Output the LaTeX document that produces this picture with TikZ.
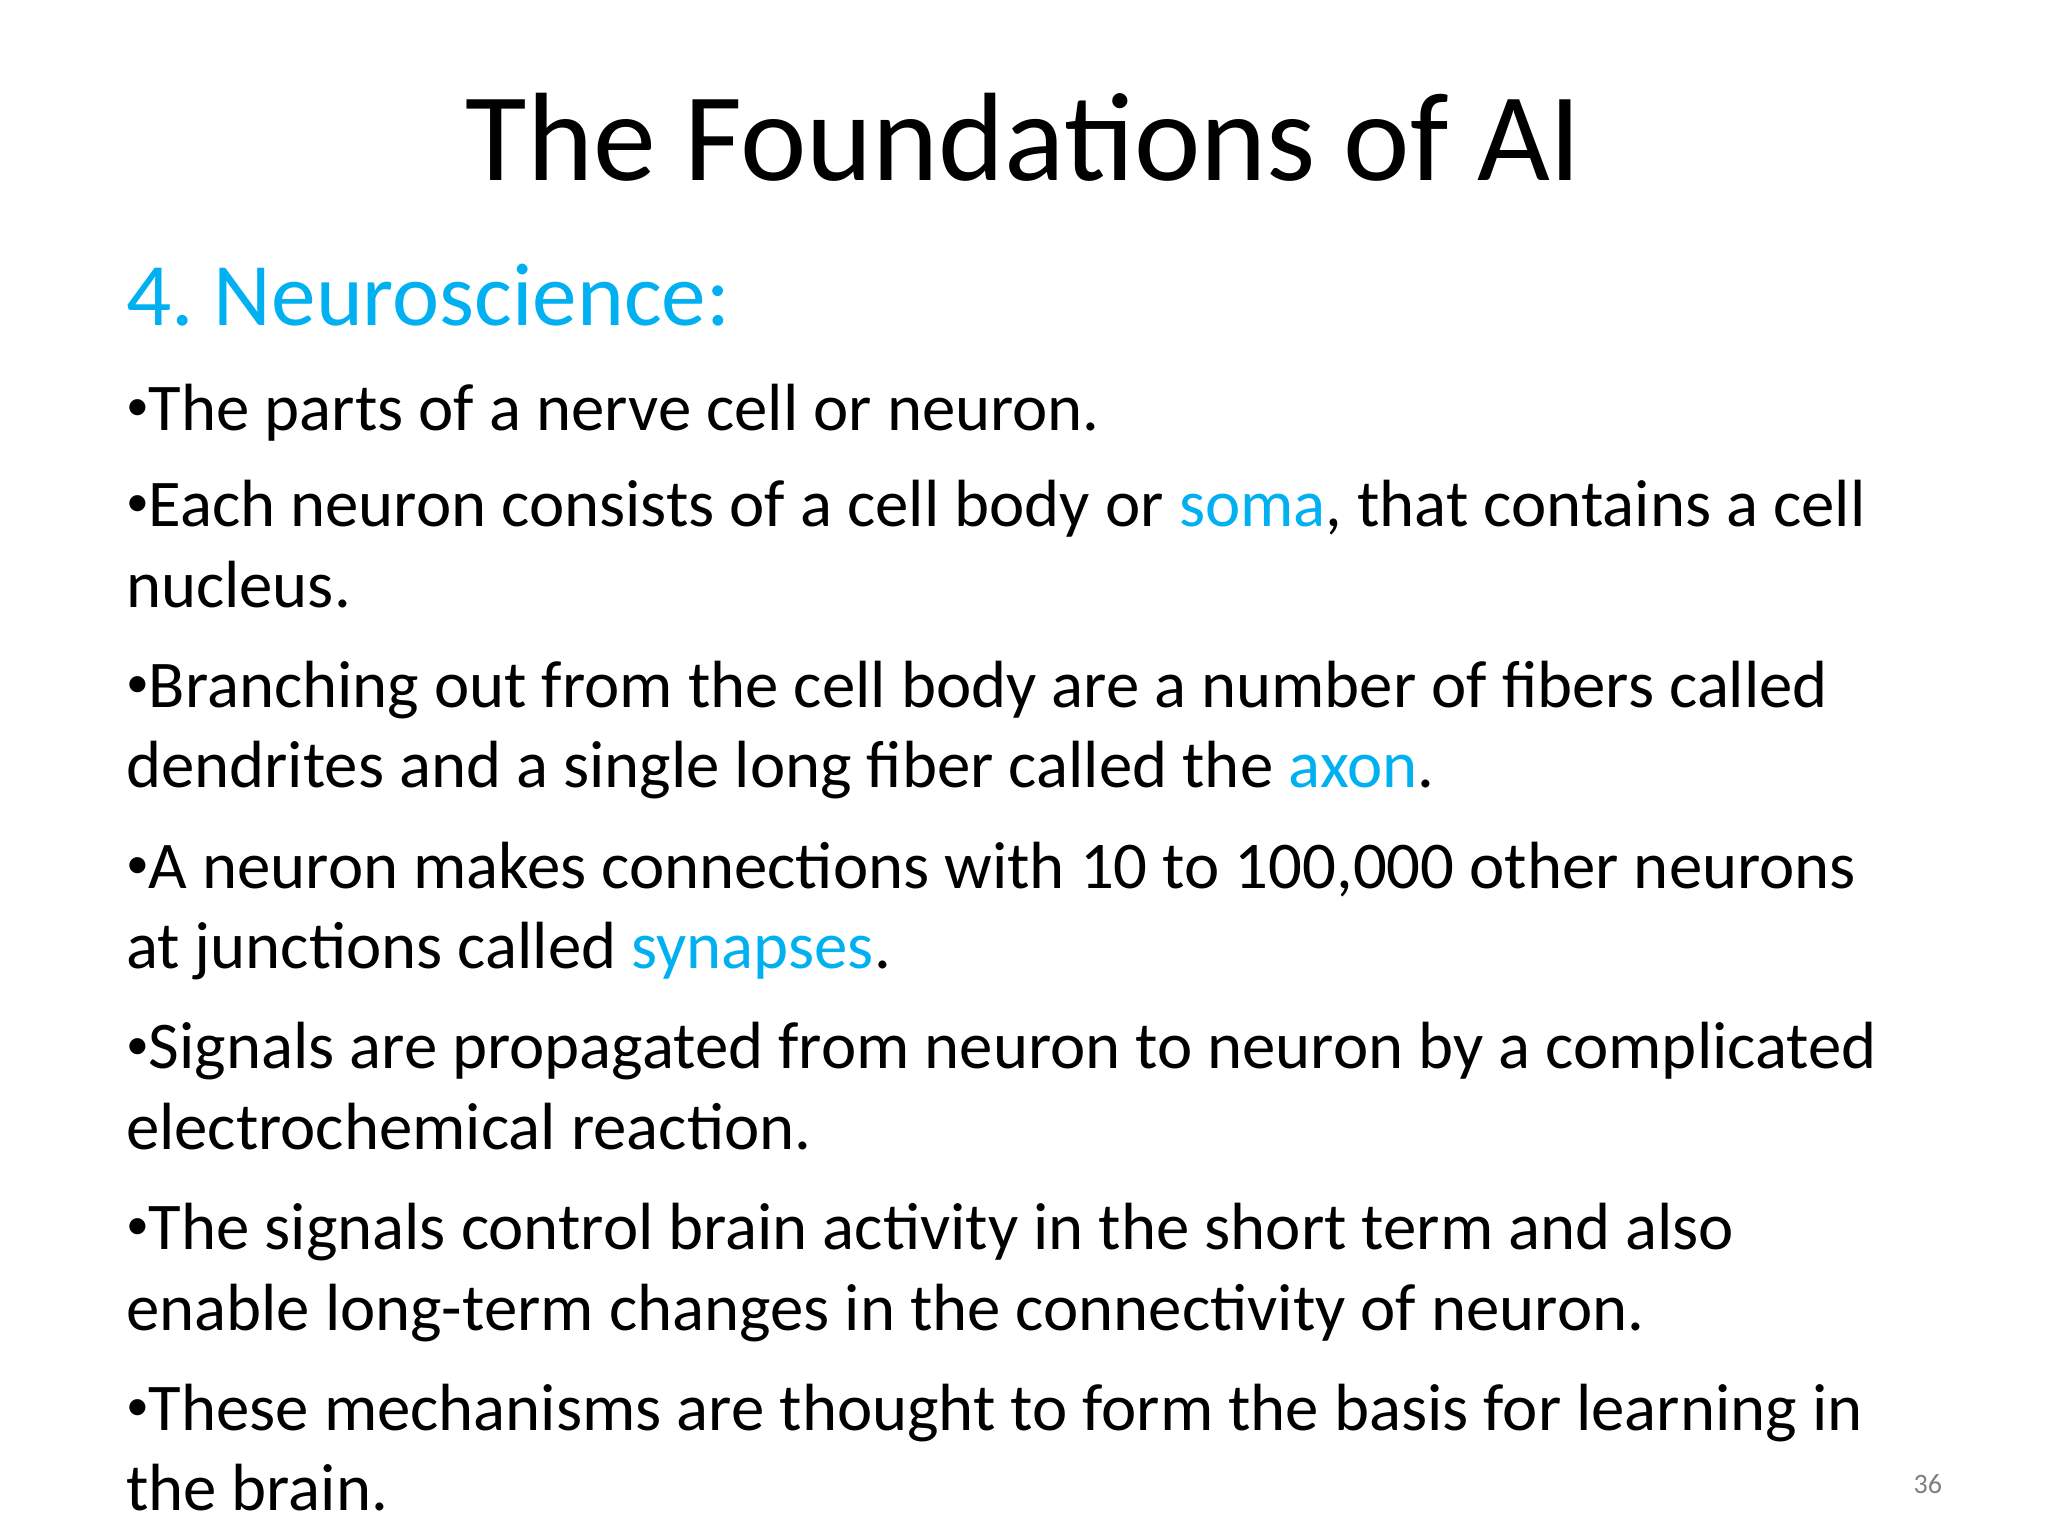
\documentclass[tikz,border=0pt]{standalone}
\usepackage{fontspec}
\setmainfont{Carlito}
\definecolor{cy}{RGB}{0,176,240}
\newcommand{\bul}{{\fontsize{13}{13}\selectfont\raisebox{0.45ex}{•}}}
\begin{document}
\begin{tikzpicture}[x=0.013196cm,y=-0.013196cm,
  body/.style={anchor=base west,inner sep=0pt,font=\fontsize{19}{23}\selectfont}]
\useasboundingbox[fill=white] (0,0) rectangle (1552,1164);
\node[anchor=base,inner sep=0pt,font=\fontsize{35.8}{42}\selectfont] (title) at (776,137) {The Foundations of AI};
\node[anchor=base west,inner sep=0pt,text=cy,font=\fontsize{25.4}{30}\selectfont] (h) at (95,247) {4.~Neuroscience:};
\node[body] (l1) at (95,326) {\bul The parts of a nerve cell or neuron.};
\node[body] (l2) at (95,399) {\bul Each neuron consists of a cell body or \textcolor{cy}{soma}, that contains a cell};
\node[body] (l3) at (95,460) {nucleus.};
\node[body] (l4) at (95,536) {\bul Branching out from the cell body are a number of fibers called};
\node[body] (l5) at (95,597) {dendrites and a single long fiber called the \textcolor{cy}{axon}.};
\node[body] (l6) at (95,673) {\bul A neuron makes connections with 10 to 100,000 other neurons};
\node[body] (l7) at (95,734) {at junctions called \textcolor{cy}{synapses}.};
\node[body] (l8) at (95,810) {\bul Signals are propagated from neuron to neuron by a complicated};
\node[body] (l9) at (95,871) {electrochemical reaction.};
\node[body] (l10) at (95,947) {\bul The signals control brain activity in the short term and also};
\node[body] (l11) at (95,1008) {enable long-term changes in the connectivity of neuron.};
\node[body] (l12) at (95,1084) {\bul These mechanisms are thought to form the basis for learning in};
\node[body] (l13) at (95,1145) {the brain.};
\node[anchor=base,inner sep=0pt,text=gray,font=\fontsize{8}{10}\selectfont] (pn) at (1461,1132) {36};
\end{tikzpicture}
\end{document}
